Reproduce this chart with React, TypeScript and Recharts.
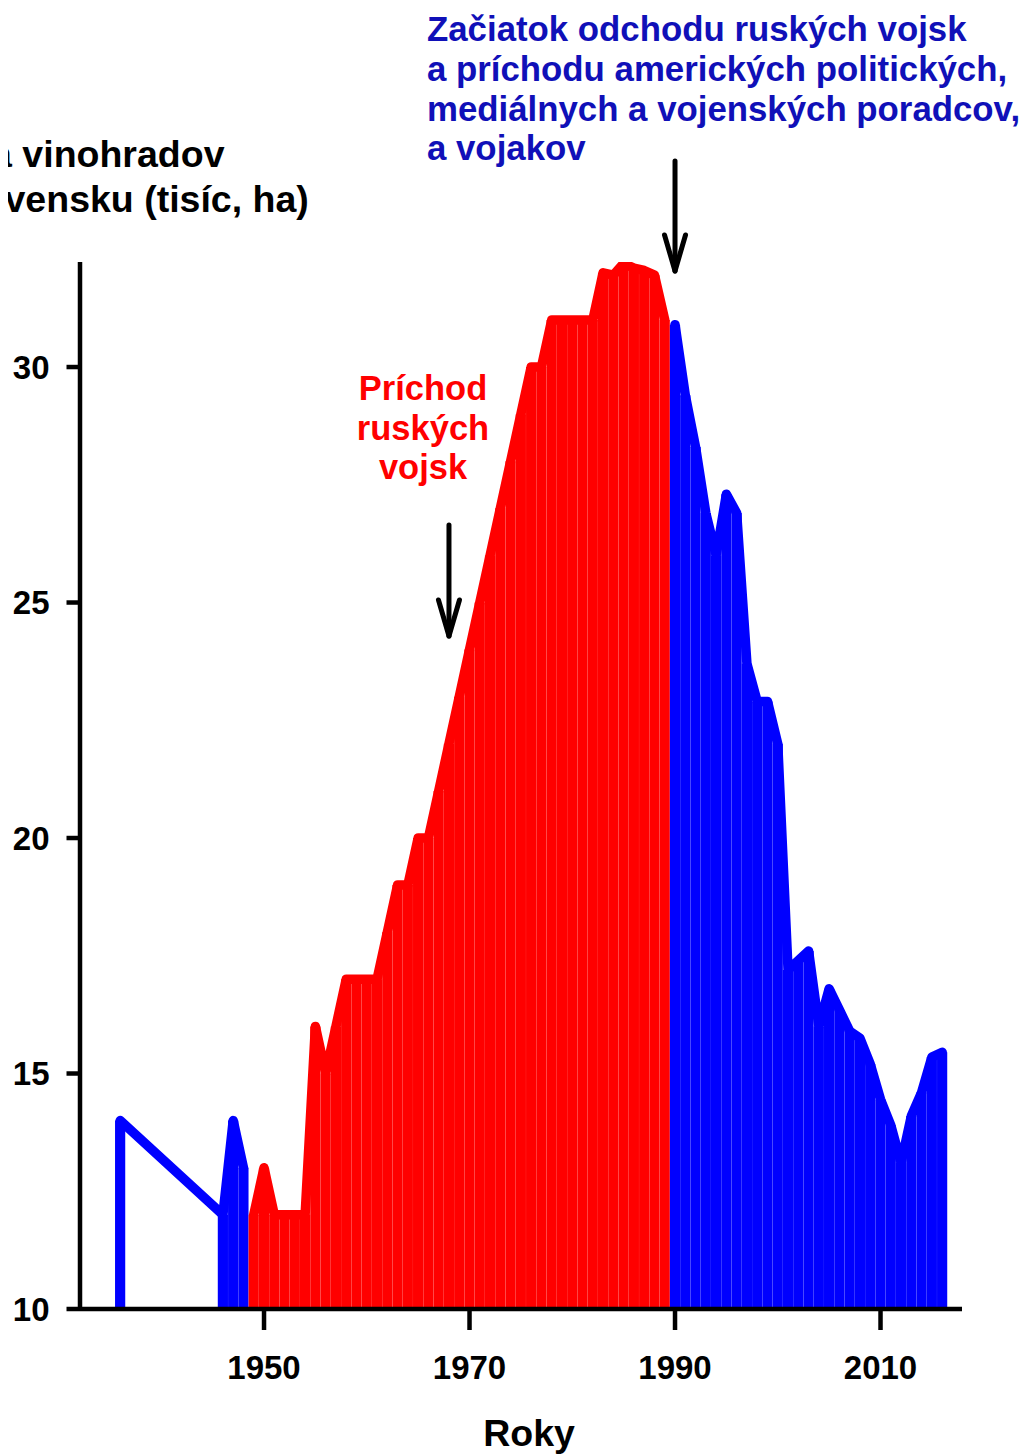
import React from 'react';
import { ComposedChart, Bar, Line, XAxis, YAxis, Cell } from 'recharts';

// ---- data ----
const years = [
  1936,
  1946, 1947, 1948, 1949, 1950, 1951, 1952, 1953, 1954,
  1955, 1956, 1957, 1958, 1959, 1960, 1961, 1962, 1963, 1964,
  1965, 1966, 1967, 1968, 1969, 1970, 1971, 1972, 1973, 1974,
  1975, 1976, 1977, 1978, 1979, 1980, 1981, 1982, 1983, 1984,
  1985, 1986, 1987, 1988, 1989, 1990, 1991, 1992, 1993, 1994,
  1995, 1996, 1997, 1998, 1999, 2000, 2001, 2002, 2003, 2004,
  2005, 2006, 2007, 2008, 2009, 2010, 2011, 2012, 2013, 2014,
  2015, 2016,
];
const vineyardArea = [
  14,
  12, 14, 13, 12, 13, 12, 12, 12, 12,
  16, 15, 16, 17, 17, 17, 17, 18, 19, 19,
  20, 20, 21, 22, 23, 24, 25, 26, 27, 28,
  29, 30, 30, 31, 31, 31, 31, 31, 32, 31.95,
  32.2, 32.1, 32.05, 31.95, 31, 30.9, 29.4, 28.3, 26.9, 26,
  27.3, 26.9, 23.7, 22.9, 22.9, 22, 17.2, 17.4, 17.6, 16,
  16.8, 16.35, 15.9, 15.75, 15.2, 14.45, 13.9, 13.1, 14.1, 14.6,
  15.35, 15.45,
];
const redFrom = 1949;
const redTo = 1989;
const xTicks = [1950, 1970, 1990, 2010];
const yTicks = [10, 15, 20, 25, 30];

const RED = '#ff0000';
const BLUE = '#0000ff';
const TEXT_BLUE = '#1010b8';
const FONT = '"Liberation Sans", Arial, Helvetica, sans-serif';

const W = 1027;
const H = 1454;
const PLOT_LEFT = 80;
const PLOT_RIGHT = 962;
const PLOT_TOP = 262;
const PLOT_BOTTOM = 1309;
const X_DOMAIN: [number, number] = [1932.09, 2017.93];
const Y_DOMAIN: [number, number] = [10, 32.23];

const isRed = (y: number) => y >= redFrom && y <= redTo;

const rows = years.map((year, i) => ({
  year,
  value: vineyardArea[i],
  red: isRed(year) ? vineyardArea[i] : null,
  blue: isRed(year) ? null : vineyardArea[i],
}));

// thin white separators between neighbouring bars of the same colour
const gapRows = years.slice(0, -1).flatMap((year, i) => {
  const next = years[i + 1];
  if (next - year !== 1 || isRed(year) !== isRed(next)) return [];
  return [{ x: year + 0.5, top: Math.min(vineyardArea[i], vineyardArea[i + 1]) }];
});

const xOf = (year: number) =>
  PLOT_LEFT + ((year - X_DOMAIN[0]) / (X_DOMAIN[1] - X_DOMAIN[0])) * (PLOT_RIGHT - PLOT_LEFT);

const tickStyle = { fill: '#000', fontSize: 33, fontWeight: 700, fontFamily: FONT };

const Arrow = ({ x, y1, y2 }: { x: number; y1: number; y2: number }) => (
  <g stroke="#000" strokeWidth={5} strokeLinecap="round" fill="none">
    <line x1={x} y1={y1} x2={x} y2={y2 - 2} />
    <line x1={x - 10.5} y1={y2 - 36} x2={x} y2={y2} />
    <line x1={x + 10.5} y1={y2 - 36} x2={x} y2={y2} />
  </g>
);

export default function App() {
  const arrowRussianX = xOf(1968);
  const arrowLeaveX = xOf(1990);
  return (
    <div
      style={{
        position: 'relative',
        width: W,
        height: H,
        margin: '-8px 0 0 -8px',
        background: '#fff',
        overflow: 'hidden',
        fontFamily: FONT,
      }}
    >
      <ComposedChart
        width={W}
        height={H}
        data={rows}
        margin={{ top: PLOT_TOP, right: W - PLOT_RIGHT, bottom: 0, left: 0 }}
      >
        <XAxis
          dataKey="year"
          type="number"
          domain={X_DOMAIN}
          allowDataOverflow
          ticks={xTicks}
          height={H - PLOT_BOTTOM}
          tick={tickStyle}
          tickSize={21}
          tickMargin={26}
          axisLine={{ stroke: '#000', strokeWidth: 4.5 }}
          tickLine={{ stroke: '#000', strokeWidth: 4.5 }}
        />
        <XAxis
          xAxisId="gap"
          dataKey="x"
          type="number"
          domain={X_DOMAIN}
          allowDataOverflow
          hide
        />
        <YAxis
          type="number"
          domain={Y_DOMAIN}
          allowDataOverflow
          ticks={yTicks}
          width={PLOT_LEFT}
          tick={tickStyle}
          tickSize={13.5}
          tickMargin={17}
          axisLine={{ stroke: '#000', strokeWidth: 4.5 }}
          tickLine={{ stroke: '#000', strokeWidth: 4.5 }}
        />
        <Bar dataKey="value" barSize={10.2} isAnimationActive={false}>
          {rows.map((r) => (
            <Cell key={r.year} fill={isRed(r.year) ? RED : BLUE} />
          ))}
        </Bar>
        <Bar
          data={gapRows}
          xAxisId="gap"
          dataKey="top"
          barSize={1.6}
          fill="#ffffff"
          isAnimationActive={false}
        />
        <Line
          dataKey="blue"
          stroke={BLUE}
          strokeWidth={9.5}
          strokeLinejoin="round"
          strokeLinecap="round"
          dot={false}
          activeDot={false}
          connectNulls={false}
          isAnimationActive={false}
        />
        <Line
          dataKey="red"
          stroke={RED}
          strokeWidth={9.5}
          strokeLinejoin="round"
          strokeLinecap="round"
          dot={false}
          activeDot={false}
          connectNulls={false}
          isAnimationActive={false}
        />
      </ComposedChart>

      <svg
        width={W}
        height={H}
        style={{ position: 'absolute', left: 0, top: 0, overflow: 'hidden', pointerEvents: 'none' }}
      >
        {/* y-axis title (cut off at the left edge, as in the original) */}
        <g fontFamily={FONT} fontWeight={700} fontSize={37.5} fill="#000">
          <text x={-111} y={167}>Plocha vinohradov</text>
          <text x={-108} y={212}>na Slovensku (tisíc, ha)</text>
        </g>
        {/* x-axis title */}
        <text x={529} y={1446} textAnchor="middle" fontFamily={FONT} fontWeight={700} fontSize={37.5} fill="#000">
          Roky
        </text>

        {/* red annotation */}
        <g fontFamily={FONT} fontWeight={700} fontSize={34.5} fill={RED} textAnchor="middle">
          <text x={423} y={400}>Príchod</text>
          <text x={423} y={440}>ruských</text>
          <text x={423} y={478.5}>vojsk</text>
        </g>
        <Arrow x={arrowRussianX} y1={525} y2={636} />

        {/* blue annotation */}
        <g fontFamily={FONT} fontWeight={700} fontSize={34.8} fill={TEXT_BLUE}>
          <text x={427} y={41}>Začiatok odchodu ruských vojsk</text>
          <text x={427} y={81}>a príchodu amerických politických,</text>
          <text x={427} y={120.5}>mediálnych a vojenských poradcov,</text>
          <text x={427} y={160}>a vojakov</text>
        </g>
        <Arrow x={arrowLeaveX} y1={161} y2={271} />
      </svg>
    </div>
  );
}
